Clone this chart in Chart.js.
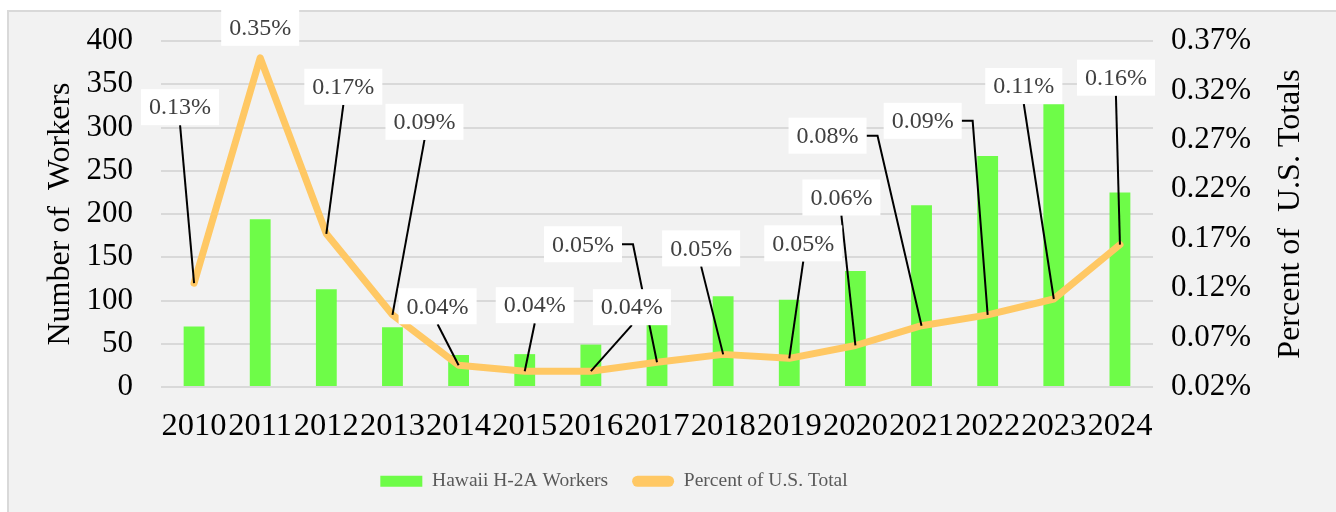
<!DOCTYPE html>
<html>
<head>
<meta charset="utf-8">
<script src="https://cdn.jsdelivr.net/npm/chart.js@4/dist/chart.umd.min.js"></script>
<style>
  html, body { margin: 0; padding: 0; background: #ffffff; width: 1336px; height: 512px; overflow: hidden; }
  #frame { position: absolute; left: 7px; top: 10px; width: 1329px; height: 502px; box-sizing: border-box;
           background: #f2f2f2; border-top: 2px solid #d9d9d9; border-left: 2px solid #d9d9d9; }
  #c { position: absolute; left: 0; top: 0; }
</style>
</head>
<body>
<div id="frame"></div>
<canvas id="c" width="1336" height="512"></canvas>
<script>
// ---- Data ----
const years = ['2010','2011','2012','2013','2014','2015','2016','2017','2018','2019','2020','2021','2022','2023','2024'];
const hawaiiWorkers = [70, 194, 113, 69, 37, 38, 49, 72, 105, 101, 134, 210, 267, 327, 225];
const percentOfUS = [0.125, 0.353, 0.175, 0.093, 0.042, 0.036, 0.036, 0.045, 0.053, 0.049, 0.062, 0.082, 0.093, 0.109, 0.164];
const percentLabels = ['0.13%','0.35%','0.17%','0.09%','0.04%','0.04%','0.04%','0.05%','0.05%','0.05%','0.06%','0.08%','0.09%','0.11%','0.16%'];
const leftTickLabels = ['0','50','100','150','200','250','300','350','400'];
const rightTickLabels = ['0.02%','0.07%','0.12%','0.17%','0.22%','0.27%','0.32%','0.37%'];

// ---- Callout layout (pixel offsets of label box centre from its point) ----
const calloutOffsets = [[-14,-176],[0,-30],[17,-147],[32,-193],[-21,-59],[10,-66],[41,-64],[-74,-118],
                        [-22,-106],[14,-115],[-14,-148],[-94,-190],[-65,-194],[-30,-213],[-4,-167]];
const calloutLeaders = ['straight','none','straight','straight','straight','straight','straight','elbow',
                        'straight','straight','straight','elbow','elbow','straight','straight'];

const FONT = '"Liberation Serif", "Times New Roman", serif';
const GREEN = '#6efc48';
const ORANGE = '#ffc864';

const calloutPlugin = {
  id: 'callouts',
  afterLayout(chart) {
    // centre the legend row where the reference has it
    if (chart.legend) { chart.legend.left = 0; chart.legend.right = 1228; }
  },
  afterDatasetsDraw(chart) {
    const meta = chart.getDatasetMeta(1);
    const ctx = chart.ctx;
    ctx.save();
    ctx.font = '24px ' + FONT;
    const boxes = meta.data.map((pt, i) => {
      const [dx, dy] = calloutOffsets[i];
      const cx = pt.x + dx, cy = pt.y + dy;
      const tw = ctx.measureText(percentLabels[i]).width;
      const w = tw + 16, h = 36;
      return {pt, cx, cy, w, h, left: cx - w / 2, top: cy - h / 2, text: percentLabels[i], kind: calloutLeaders[i]};
    });
    ctx.strokeStyle = '#000000';
    ctx.lineWidth = 2;
    boxes.forEach(b => {
      if (b.kind === 'none') return;
      ctx.beginPath();
      if (b.kind === 'elbow') {
        ctx.moveTo(b.left + b.w, b.cy);
        ctx.lineTo(b.left + b.w + 11, b.cy);
      } else {
        ctx.moveTo(b.cx, b.top + b.h);
      }
      ctx.lineTo(b.pt.x, b.pt.y);
      ctx.stroke();
    });
    boxes.forEach(b => {
      ctx.fillStyle = '#ffffff';
      ctx.fillRect(b.left, b.top, b.w, b.h);
      ctx.fillStyle = '#404040';
      ctx.textAlign = 'center';
      ctx.textBaseline = 'middle';
      ctx.fillText(b.text, b.cx, b.cy + 1);
    });
    ctx.restore();
  },
  afterDraw(chart) {
    const ctx = chart.ctx;
    const area = chart.chartArea;
    ctx.save();
    ctx.font = '32px ' + FONT;
    ctx.fillStyle = '#000000';
    ctx.textAlign = 'center';
    ctx.textBaseline = 'middle';
    ctx.translate(1291, (area.top + area.bottom) / 2);
    ctx.rotate(-Math.PI / 2);
    ctx.fillText('Percent of  U.S. Totals', 0, 0);
    ctx.restore();
  }
};

new Chart(document.getElementById('c'), {
  data: {
    labels: years,
    datasets: [
      {
        type: 'bar',
        label: 'Hawaii H-2A Workers',
        data: hawaiiWorkers,
        backgroundColor: GREEN,
        borderWidth: 0,
        yAxisID: 'y',
        categoryPercentage: 1,
        barPercentage: 0.315,
        order: 1
      },
      {
        type: 'line',
        label: 'Percent of U.S. Total',
        data: percentOfUS,
        borderColor: ORANGE,
        backgroundColor: ORANGE,
        borderWidth: 7,
        borderCapStyle: 'round',
        borderJoinStyle: 'round',
        pointRadius: 0,
        tension: 0,
        yAxisID: 'y1',
        order: 0
      }
    ]
  },
  options: {
    responsive: false,
    animation: false,
    layout: { padding: { top: 41, left: 0, right: 73, bottom: 11 } },
    plugins: {
      tooltip: { enabled: false },
      legend: {
        position: 'bottom',
        labels: {
          font: { family: FONT, size: 19.5 },
          color: '#595959',
          boxWidth: 42,
          boxHeight: 11,
          padding: 24,
          useBorderRadius: true,
          sort: (a, b) => a.datasetIndex - b.datasetIndex,
          generateLabels: (chart) => {
            const items = Chart.defaults.plugins.legend.labels.generateLabels(chart);
            items.forEach(it => {
              it.lineWidth = 0;
              if (it.datasetIndex === 1) {
                it.fillStyle = ORANGE;
                it.strokeStyle = ORANGE;
                it.borderRadius = 5.5;
              } else {
                it.borderRadius = 0;
              }
            });
            return items;
          }
        }
      }
    },
    scales: {
      x: {
        grid: { display: false, drawTicks: false },
        border: { display: false },
        ticks: { font: { family: FONT, size: 32.5 }, color: '#000000', padding: 20, maxRotation: 0, autoSkip: false },
        afterFit: (s) => { s.height = 60.5; }
      },
      y: {
        position: 'left',
        min: 0, max: 400,
        grid: { color: '#d9d9d9', lineWidth: 2, drawTicks: false },
        border: { display: false },
        ticks: {
          stepSize: 50,
          font: { family: FONT, size: 31 }, color: '#000000', padding: 28,
          callback: (v, i) => leftTickLabels[i]
        },
        title: {
          display: true,
          text: 'Number of  Workers',
          font: { family: FONT, size: 32 },
          color: '#000000',
          padding: { top: 41, bottom: 0 }
        },
        afterFit: (s) => { s.width = 161; s.paddingTop = 10; s.paddingBottom = 10; }
      },
      y1: {
        position: 'right',
        min: 0.02, max: 0.37,
        grid: { display: false, drawTicks: false },
        border: { display: false },
        ticks: {
          stepSize: 0.05,
          font: { family: FONT, size: 31 }, color: '#000000', padding: 18,
          callback: (v, i) => rightTickLabels[i]
        },
        afterFit: (s) => { s.width = 110; s.paddingTop = 10; s.paddingBottom = 10; }
      }
    }
  },
  plugins: [calloutPlugin]
});
</script>
</body>
</html>
